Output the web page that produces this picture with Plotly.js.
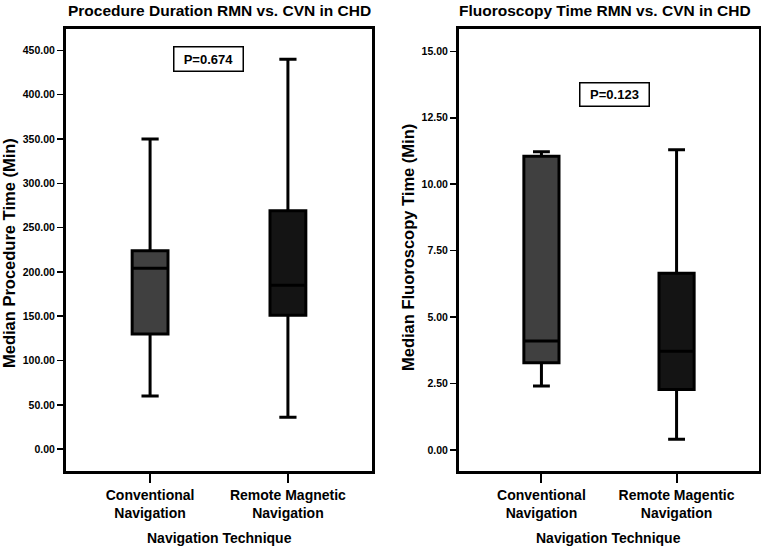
<!DOCTYPE html>
<html>
<head>
<meta charset="utf-8">
<script src="https://cdn.plot.ly/plotly-3.0.1.min.js"></script>
<style>html,body{margin:0;padding:0;background:#fff;}#chart{width:761px;height:548px;}</style>
</head>
<body>
<div id="chart"></div>
<script>
// Procedure duration (min)
const procCategories = ['Conventional<br>Navigation', 'Remote Magnetic<br>Navigation'];
const procLower  = [60, 36];
const procQ1     = [130, 151];
const procMedian = [204, 185];
const procQ3     = [224, 269];
const procUpper  = [350, 440];
const procPValue = 'P=0.674';

// Fluoroscopy time (min)
const fluoroCategories = ['Conventional<br>Navigation', 'Remote Magentic<br>Navigation'];
const fluoroLower  = [2.41, 0.40];
const fluoroQ1     = [3.28, 2.28];
const fluoroMedian = [4.10, 3.72];
const fluoroQ3     = [11.05, 6.65];
const fluoroUpper  = [11.22, 11.30];
const fluoroPValue = 'P=0.123';

const boxFills = ['#404040', '#141414'];

const FONT = 'Liberation Sans, Arial, sans-serif';
const W = 761, H = 548;
const px = v => v / W;
const py = v => 1 - v / H;

const traces = [];
function addBoxes(cats, lo, q1, med, q3, hi, xa, ya) {
  cats.forEach((c, i) => {
    traces.push({
      type: 'box',
      x: [c],
      lowerfence: [lo[i]],
      q1: [q1[i]],
      median: [med[i]],
      q3: [q3[i]],
      upperfence: [hi[i]],
      xaxis: xa, yaxis: ya,
      fillcolor: boxFills[i],
      line: {color: '#000', width: 3},
      width: 0.26,
      whiskerwidth: 0.48,
      boxpoints: false,
      hoverinfo: 'skip',
      showlegend: false
    });
  });
}
addBoxes(procCategories, procLower, procQ1, procMedian, procQ3, procUpper, 'x', 'y');
addBoxes(fluoroCategories, fluoroLower, fluoroQ1, fluoroMedian, fluoroQ3, fluoroUpper, 'x2', 'y2');

const boldTick = {family: FONT, size: 10.5, color: '#000', weight: 'bold'};
const xTickFont = {family: FONT, size: 14, color: '#000', weight: 'bold'};
const yDomain = [1 - 471 / H, 1 - 28.5 / H];

const xCommon = {
  type: 'category', range: [-0.61, 1.61], showline: true, mirror: true,
  linecolor: '#000', linewidth: 3, ticks: 'outside', ticklen: 9, tickwidth: 2,
  tickcolor: '#000', tickfont: xTickFont, showgrid: false, zeroline: false,
  fixedrange: true
};
const yCommon = {
  showline: true, mirror: true, linecolor: '#000', linewidth: 3,
  ticks: 'outside', ticklen: 6, tickwidth: 1.5, tickcolor: '#000',
  tickfont: boldTick, tickformat: '.2f', showgrid: false, zeroline: false,
  fixedrange: true, domain: yDomain
};

const layout = {
  width: W, height: H,
  margin: {l: 0, r: 0, t: 0, b: 0},
  paper_bgcolor: '#fff', plot_bgcolor: '#fff',
  showlegend: false,
  xaxis: Object.assign({}, xCommon, {domain: [px(66), px(372)], anchor: 'y'}),
  yaxis: Object.assign({}, yCommon, {range: [-24.6, 474.6], tickvals: [0,50,100,150,200,250,300,350,400,450], anchor: 'x'}),
  xaxis2: Object.assign({}, xCommon, {domain: [px(459), px(759)], anchor: 'y2'}),
  yaxis2: Object.assign({}, yCommon, {range: [-0.79, 15.86], tickvals: [0,2.5,5,7.5,10,12.5,15], anchor: 'x2'}),
  annotations: [
    {text: 'Procedure Duration RMN vs. CVN in CHD', xref: 'paper', yref: 'paper', x: px(219), y: py(10), xanchor: 'center', yanchor: 'middle', showarrow: false, font: {family: FONT, size: 15.5, color: '#000', weight: 'bold'}},
    {text: 'Fluoroscopy Time RMN vs. CVN in CHD', xref: 'paper', yref: 'paper', x: px(605), y: py(10), xanchor: 'center', yanchor: 'middle', showarrow: false, font: {family: FONT, size: 15.5, color: '#000', weight: 'bold'}},
    {text: 'Median Procedure Time (Min)', xref: 'paper', yref: 'paper', x: px(9), y: py(253), xanchor: 'center', yanchor: 'middle', textangle: -90, showarrow: false, font: {family: FONT, size: 16.5, color: '#000', weight: 'bold'}},
    {text: 'Median Fluoroscopy Time (Min)', xref: 'paper', yref: 'paper', x: px(408), y: py(248), xanchor: 'center', yanchor: 'middle', textangle: -90, showarrow: false, font: {family: FONT, size: 16.5, color: '#000', weight: 'bold'}},
    {text: 'Navigation Technique', xref: 'paper', yref: 'paper', x: px(219), y: py(538), xanchor: 'center', yanchor: 'middle', showarrow: false, font: {family: FONT, size: 14, color: '#000', weight: 'bold'}},
    {text: 'Navigation Technique', xref: 'paper', yref: 'paper', x: px(608), y: py(538), xanchor: 'center', yanchor: 'middle', showarrow: false, font: {family: FONT, size: 14, color: '#000', weight: 'bold'}},
    {text: procPValue, xref: 'paper', yref: 'paper', x: px(208), y: py(59), xanchor: 'center', yanchor: 'middle', showarrow: false, width: 66, height: 21, bordercolor: '#000', borderwidth: 1.5, bgcolor: '#fff', font: {family: FONT, size: 13, color: '#000', weight: 'bold'}},
    {text: fluoroPValue, xref: 'paper', yref: 'paper', x: px(614), y: py(94), xanchor: 'center', yanchor: 'middle', showarrow: false, width: 66, height: 20, bordercolor: '#000', borderwidth: 1.5, bgcolor: '#fff', font: {family: FONT, size: 13, color: '#000', weight: 'bold'}}
  ]
};

Plotly.newPlot('chart', traces, layout, {staticPlot: true, displayModeBar: false});
</script>
</body>
</html>
